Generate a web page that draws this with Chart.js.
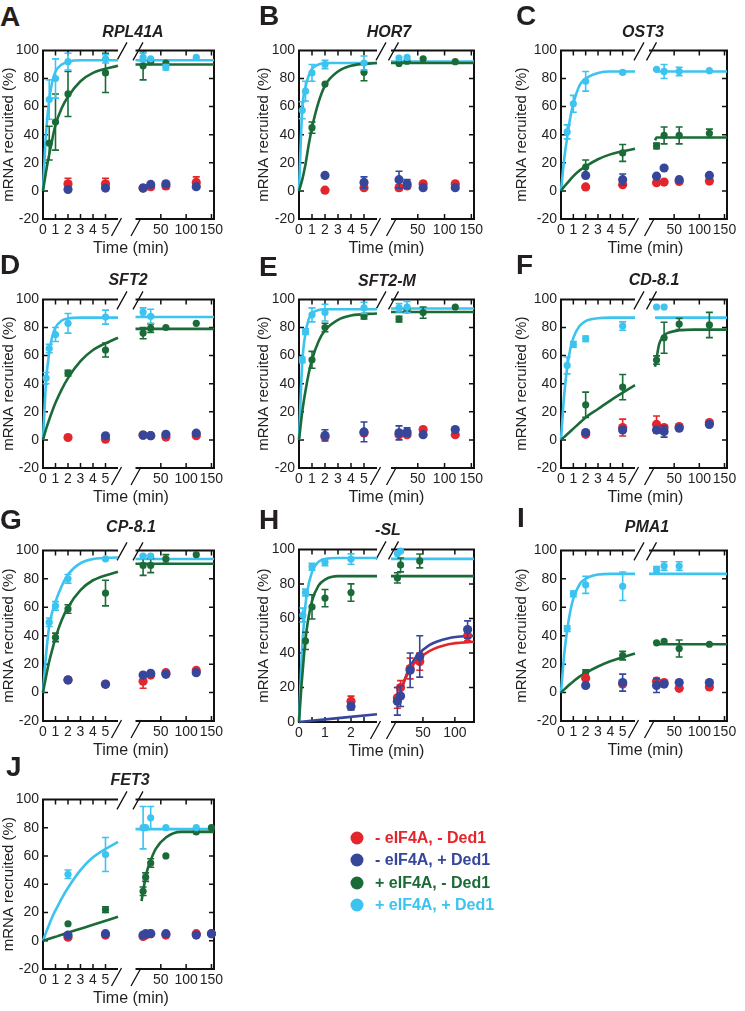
<!DOCTYPE html>
<html><head><meta charset="utf-8">
<script src="https://cdn.jsdelivr.net/npm/chart.js@4.4.0/dist/chart.umd.min.js"></script>
<style>
body{margin:0;background:#fff;width:745px;height:1011px;position:relative;overflow:hidden;font-family:"Liberation Sans",Arial,Helvetica,sans-serif;color:#231f20;}
canvas.pc{position:absolute;}
.lt{position:absolute;font-weight:bold;font-size:28px;line-height:1;}
.gt{position:absolute;font-weight:bold;font-style:italic;font-size:16px;line-height:1;transform:translate(-50%,-50%);white-space:nowrap;}
.xt{position:absolute;font-size:16px;line-height:1;transform:translate(-50%,-50%);white-space:nowrap;}
.lg{position:absolute;font-weight:bold;font-size:16px;line-height:1;transform:translateY(-50%);white-space:nowrap;}
.dot{position:absolute;width:13px;height:13px;border-radius:50%;transform:translate(-50%,-50%);}
</style>
</head><body>
<script>
const _ = null;
// ---- time points ----
const tL = [0.25, 0.5, 1, 2, 5];
const tR = [15, 30, 60, 120];
const tL_H = [0.15, 0.25, 0.5, 1, 2];
const tR_H = [10, 15, 30, 45, 120];
const tR_J = [15, 20, 30, 60, 120, 150];
// curve sample times
const cTL = [0, 0.25, 0.5, 0.75, 1, 1.5, 2, 3, 4, 6];
const cTR = [0, 12, 15, 20, 25, 30, 40, 60, 90, 155];
const cTL_H = [0, 0.1, 0.2, 0.3, 0.5, 0.75, 1, 1.5, 2, 3];
const cTR_H = [0, 10, 15, 20, 25, 30, 40, 60, 90, 130];
const cTR_J = [0, 12, 15, 20, 25, 30, 40, 60, 90, 155];
// series order: [-eIF4A -Ded1, -eIF4A +Ded1, +eIF4A -Ded1, +eIF4A +Ded1]
const seriesNames = ['- eIF4A, - Ded1', '- eIF4A, + Ded1', '+ eIF4A, - Ded1', '+ eIF4A, + Ded1'];
const seriesColors = ['#e3262c', '#35469b', '#1b6b39', '#3cc3f0'];

// ---- A RPL41A ----
const A_ptsL = [[_,_,_,5,5],[_,_,_,1,2],[_,34,49,69,84],[_,65,80,92,94]];
const A_errL = [[0,0,0,4,4],[0,0,0,0,0],[0,12,20,16,14],[0,14,14,6,3]];
const A_ptsR = [[2,3,3.5,6],[2,4.6,5,3],[89,92,91,_],[95,94,88,95]];
const A_errR = [[0,2,2,4],[0,0,0,0],[10,0,0,0],[3,0,2,0]];
const A_fitL = [_,_,[0,14,26,37,47,59,67,78,84,89],[0,42,65,78,85,90,92,93,93,93]];
const A_fitR = [_,_,[90,_,_,_,_,_,_,_,_,90],[93,_,_,_,_,_,_,_,_,93]];
// ---- B HOR7 ----
const B_ptsL = [[_,_,_,0.5,2.3],[_,_,_,11,6],[_,_,45,76,84.4],[57.4,71,84,90,91]];
const B_errL = [[0,0,0,0,0],[0,0,0,0,4],[0,0,4,0,6],[6,7,6,3,5]];
const B_ptsR = [[2.3,3.5,5,5],[8,5,2.3,2.3],[90.7,92.3,94,92],[94.6,95,_,_]];
const B_errR = [[2,0,0,0],[6,3,0,0],[0,0,0,0],[0,0,0,0]];
const B_fitL = [_,_,[0,8,19,33,45,63,75,85,89,91],[0,58,74,82,87,90,91,91,91,91]];
const B_fitR = [_,_,[91,_,_,_,_,_,_,_,_,91],[92,_,_,_,_,_,_,_,_,92]];
// ---- C OST3 ----
const C_ptsL = [[_,_,_,2.8,4.4],[_,_,_,11,8],[_,_,_,17,27],[_,42,62,78,84.4]];
const C_errL = [[0,0,0,0,0],[0,0,0,0,4],[0,0,0,5,6],[0,5,6,7,1]];
const C_ptsR = [[5.8,6.3,6.7,7],[10.5,16.3,8,11],[32,39.5,39.5,41],[86.5,85,85,85.6]];
const C_errR = [[0,0,0,0],[0,0,0,0],[2,6,6,3],[0,5,3,0]];
const C_fitL = [_,_,[0,3,5.5,8,10.5,14.5,17.5,22.5,26,30],[0,22,38,52,62,75,80,84,85,85]];
const C_fitR = [_,_,[_,36,38,_,_,_,_,_,_,38],[_,85,_,_,_,_,_,_,_,85]];
// ---- D SFT2 ----
const D_ptsL = [[_,_,_,1.7,0.5],[_,_,_,_,2.9],[_,_,_,47.5,64],[44,65,75,83,87.4]];
const D_errL = [[0,0,0,0,0],[0,0,0,0,0],[0,0,0,2,5],[4,3,5,7,5]];
const D_ptsR = [[3.4,3,2,3],[3.4,3,4,4.8],[76,79.5,80,83],[91,88,_,_]];
const D_errR = [[0,0,0,0],[0,0,0,0],[4,3,0,0],[3,5,0,0]];
const D_fitL = [_,_,[0,7.8,14.5,20.7,26.4,36,44,56,64,72.7],[0,42,62,74,80,85,86.5,87,87,87]];
const D_fitR = [_,_,[79,_,_,_,_,_,_,_,_,79],[87.5,_,_,_,_,_,_,_,_,87.5]];
// ---- E SFT2-M ----
const E_ptsL = [[_,_,_,2,5],[_,_,_,3.2,5.7],[_,_,57,80,88],[57,77,89,90.6,94]];
const E_errL = [[0,0,0,0,0],[0,0,0,4,7],[0,0,6,3,2],[2,2,5,6,4]];
const E_ptsR = [[3.7,3.7,7.4,3.7],[5,5.7,3.7,7.4],[86,92.5,90.6,94.6],[94,94.6,_,_]];
const E_errR = [[0,0,0,0],[5,3,0,0],[2,0,4,0],[3,4,0,0]];
const E_fitL = [_,_,[0,20,35,47.5,57,70,78,85.5,88.5,90],[0,55,76,86,90,92.5,93,93,93,93]];
const E_fitR = [_,_,[91,_,_,_,_,_,_,_,_,91],[93.5,_,_,_,_,_,_,_,_,93.5]];
// ---- F CD-8.1 ----
const F_ptsL = [[_,_,_,4,8.8],[_,_,_,5.2,7],[_,_,_,25,37.6],[_,53,68,72,81]];
const F_errL = [[0,0,0,0,6],[0,0,0,0,0],[0,0,0,9,9],[0,6,2,2,3]];
const F_ptsR = [[11,8.8,9.5,12.4],[7,6,8.3,11],[56.8,72.7,82.5,81.8],[94.6,94.6,_,_]];
const F_errR = [[6,0,0,0],[0,4,0,0],[3,11,4,9],[0,0,0,0]];
const F_fitL = [_,_,[0,2,4,6,8,12,16,22,28,39],[0,31,51.5,64.5,72.6,81,84.6,86.6,87,87]];
const F_fitR = [_,_,[_,52,58,68,72,74.5,76.5,78,78.5,78.5],[_,87,_,_,_,_,_,_,_,87]];
// ---- G CP-8.1 ----
const G_ptsL = [[_,_,_,9,6],[_,_,_,8.8,5.8],[_,_,38.8,58.8,70],[_,49.5,61,80,94]];
const G_errL = [[0,0,0,0,0],[0,0,0,0,0],[0,0,3,3,9],[0,3,3,3,0]];
const G_ptsR = [[8,12.3,14,15.6],[12.3,13.5,12.8,14],[89.4,89.4,94,97],[96,96,_,_]];
const G_errR = [[5,0,0,0],[0,0,0,0],[7,5,3,0],[0,0,0,0]];
const G_fitL = [_,_,[0,11.5,22,30.5,38.5,51,60,72,79,85],[0,27,47,57,64,75,83,91,94,95]];
const G_fitR = [_,_,[90.6,_,_,_,_,_,_,_,_,90.6],[94,_,_,_,_,_,_,_,_,94]];
// ---- H -SL ----
const H_ptsL = [[_,_,_,_,12],[_,_,_,_,9],[_,47,66.7,71.8,75],[62,75,90,92.5,94.4]];
const H_errL = [[0,0,0,0,3],[0,0,0,0,2],[0,5,7,5,5],[4,2,2,2,3]];
const H_ptsR = [[14,20,31,35,50],[12,15,30,38,53.6],[83.5,91,_,93.3,_],[97.5,99,_,_,_]];
const H_errR = [[6,4,6,5,3],[8,6,10,12,5],[3,4,0,4,0],[0,0,0,0,0]];
const H_fitL = [_,[0,_,_,_,_,_,_,_,_,4.5],[0,22,40,54,70,79,82.5,84.5,84.5,84.5],[0,37,60,74,87,92.8,94.4,95,95,95]];
const H_fitR = [[_,12,18,23,27,30.5,35.5,41,45,46.5],[_,10,17,23,28,32,38,44.5,48.5,50],[84.5,_,_,_,_,_,_,_,_,84.5],[94.5,_,_,_,_,_,_,_,_,94.5]];
// ---- I PMA1 ----
const I_ptsL = [[_,_,_,10,6],[_,_,_,5,7],[_,_,_,14,26],[_,45,69.4,75.8,74.8]];
const I_errL = [[0,0,0,0,0],[0,0,0,0,6],[0,0,0,2,3],[0,2,2,6,10]];
const I_ptsR = [[8,7,3,4],[5,6,7,7],[35,36,31,34],[86.6,89,89,_]];
const I_errR = [[0,0,0,0],[5,0,0,0],[0,0,6,0],[2,3,3,0]];
const I_fitL = [_,_,[0,2.1,4.1,6,7.8,11.2,13.8,18.3,22,27.5],[0,26,44,57,66,76,80,83,83.5,83.5]];
const I_fitR = [_,_,[_,34,_,_,_,_,_,_,_,34],[83.5,_,_,_,_,_,_,_,_,83.5]];
// ---- J FET3 ----
const J_ptsL = [[_,_,_,2.5,4],[_,_,_,4,5],[_,_,_,12,22],[_,_,_,47,61]];
const J_errL = [[0,0,0,0,0],[0,0,0,0,0],[0,0,0,0,2],[0,0,0,3,12]];
const J_ptsR = [[3,4,5,4,5,5],[4,5,5,5,4,5],[35,45,55,60,77,80],[80,80,87,80,80,_]];
const J_errR = [[0,0,0,0,0,0],[0,0,0,0,0,0],[3,3,3,0,0,0],[15,0,8,0,0,0]];
const J_fitL = [_,_,[0,0.7,1.4,2.1,2.8,4.2,5.7,8.5,11.3,17],[0,6,11.5,17,21.5,30,37.5,50,59,70]];
const J_fitR = [_,_,[_,28,35,45,52,57,65,73,77,77],[79,_,_,_,_,_,_,_,_,79]];

// ---- layout (positions only) ----
const cols = [
  {left:43, lse:118, rss:135.5, right:214, yW:43, tx:131},
  {left:299, lse:377, rss:391, right:474, yW:44, tx:386.5},
  {left:561, lse:635, rss:649, right:727, yW:48, tx:645.5}
];
const rows = [{top:48,bottom:219},{top:297,bottom:468},{top:548,bottom:721},{top:797,bottom:969}];

const panels = [
  {id:'A',gene:'RPL41A',c:0,r:0,L:[0,27],G:[133,32],pL:A_ptsL,eL:A_errL,pR:A_ptsR,eR:A_errR,fL:A_fitL,fR:A_fitR},
  {id:'B',gene:'HOR7',c:1,r:0,L:[259,26],G:[389,32],pL:B_ptsL,eL:B_errL,pR:B_ptsR,eR:B_errR,fL:B_fitL,fR:B_fitR},
  {id:'C',gene:'OST3',c:2,r:0,L:[516,26],G:[643,32],pL:C_ptsL,eL:C_errL,pR:C_ptsR,eR:C_errR,fL:C_fitL,fR:C_fitR},
  {id:'D',gene:'SFT2',c:0,r:1,L:[0,275],G:[128,280],pL:D_ptsL,eL:D_errL,pR:D_ptsR,eR:D_errR,fL:D_fitL,fR:D_fitR},
  {id:'E',gene:'SFT2-M',c:1,r:1,L:[259,277],G:[387,281],pL:E_ptsL,eL:E_errL,pR:E_ptsR,eR:E_errR,fL:E_fitL,fR:E_fitR},
  {id:'F',gene:'CD-8.1',c:2,r:1,L:[516,275],G:[654,280],pL:F_ptsL,eL:F_errL,pR:F_ptsR,eR:F_errR,fL:F_fitL,fR:F_fitR},
  {id:'G',gene:'CP-8.1',c:0,r:2,L:[0,530],G:[131,527],pL:G_ptsL,eL:G_errL,pR:G_ptsR,eR:G_errR,fL:G_fitL,fR:G_fitR},
  {id:'H',gene:'-SL',c:1,r:2,L:[259,530],G:[388,530],pL:H_ptsL,eL:H_errL,pR:H_ptsR,eR:H_errR,fL:H_fitL,fR:H_fitR,
     tL:tL_H,tR:tR_H,cTL:cTL_H,cTR:cTR_H,xLmax:3,xRmax:130,yMin:0,top:547,bottom:722,ticksL:[0.5,1,1.5,2,2.5],ticksR:[50,100]},
  {id:'I',gene:'PMA1',c:2,r:2,L:[517,528],G:[647,527],pL:I_ptsL,eL:I_errL,pR:I_ptsR,eR:I_errR,fL:I_fitL,fR:I_fitR},
  {id:'J',gene:'FET3',c:0,r:3,L:[6,777],G:[130,780],pL:J_ptsL,eL:J_errL,pR:J_ptsR,eR:J_errR,fL:J_fitL,fR:J_fitR,
     tR:tR_J,cTR:cTR_J}
];

Chart.defaults.font.family = '"Liberation Sans", Arial, Helvetica, sans-serif';
Chart.defaults.font.size = 14;
Chart.defaults.color = '#231f20';

const framePlugin = {
  id:'frame',
  beforeDatasetsDraw(chart, args, opts) {
    const ctx = chart.ctx, xL = chart.scales.xL, xR = chart.scales.xR, y = chart.scales.y;
    const top = chart.chartArea.top, bot = chart.chartArea.bottom;
    const l0 = xL.left, l1 = xL.right, r0 = xR.left, r1 = xR.right;
    ctx.save();
    ctx.strokeStyle = '#111';
    ctx.lineWidth = 2;
    ctx.beginPath();
    ctx.moveTo(l1, top); ctx.lineTo(l0, top); ctx.lineTo(l0, bot); ctx.lineTo(l1, bot);
    ctx.moveTo(r0, top); ctx.lineTo(r1, top); ctx.lineTo(r1, bot); ctx.lineTo(r0, bot);
    ctx.stroke();
    ctx.lineWidth = 1.5;
    const tk = 5;
    ctx.beginPath();
    opts.ticksL.forEach(v => { const x = xL.getPixelForValue(v); ctx.moveTo(x, top); ctx.lineTo(x, top + tk); ctx.moveTo(x, bot); ctx.lineTo(x, bot - tk); });
    opts.ticksR.forEach(v => { const x = xR.getPixelForValue(v); ctx.moveTo(x, top); ctx.lineTo(x, top + tk); ctx.moveTo(x, bot); ctx.lineTo(x, bot - tk); });
    y.ticks.forEach(t => {
      if (t.value <= y.min || t.value >= y.max) return;
      const yy = y.getPixelForValue(t.value);
      ctx.moveTo(l0, yy); ctx.lineTo(l0 + tk, yy);
      ctx.moveTo(r1, yy); ctx.lineTo(r1 - tk, yy);
    });
    ctx.stroke();
    ctx.lineWidth = 1.3;
    ctx.beginPath();
    [[l1 + 4, top + 1], [r0 + 2.5, top + 1], [l1 - 1.5, bot + 8], [r0 + 0.5, bot + 8]].forEach(([cx, cy]) => {
      ctx.moveTo(cx - 5, cy + 9); ctx.lineTo(cx + 5, cy - 9);
    });
    ctx.stroke();
    ctx.restore();
  }
};

const errPlugin = {
  id:'errbars',
  beforeDatasetDraw(chart, args) {
    const ds = chart.data.datasets[args.index];
    if (!ds.hasErr) return;
    const ctx = chart.ctx, xs = chart.scales[ds.xAxisID], ys = chart.scales.y;
    ctx.save();
    ctx.strokeStyle = ds.borderColor;
    ctx.lineWidth = 1.6;
    ctx.beginPath();
    ds.data.forEach(d => {
      if (!d.e) return;
      const x = xs.getPixelForValue(d.x);
      const y1 = ys.getPixelForValue(d.y + d.e), y2 = ys.getPixelForValue(d.y - d.e);
      ctx.moveTo(x, y1); ctx.lineTo(x, y2);
      ctx.moveTo(x - 3.5, y1); ctx.lineTo(x + 3.5, y1);
      ctx.moveTo(x - 3.5, y2); ctx.lineTo(x + 3.5, y2);
    });
    ctx.stroke();
    ctx.restore();
  }
};

function addText(cls, txt, x, y, extra) {
  const d = document.createElement('div');
  d.className = cls; d.textContent = txt;
  d.style.left = x + 'px'; d.style.top = y + 'px';
  if (extra) Object.assign(d.style, extra);
  document.body.appendChild(d);
  return d;
}

const drawOrder = [2, 1, 4, 3]; // blue drawn on top, then red, green, cyan

panels.forEach(p => {
  const col = cols[p.c], row = rows[p.r];
  const top = p.top ?? row.top, bottom = p.bottom ?? row.bottom;
  const padT = 10, padR = 14, xH = 30;
  const cLeft = col.left - col.yW, cTop = top - padT;
  const W = col.right + padR - cLeft, H = bottom - top + padT + xH;
  const tl = p.tL || tL, tr = p.tR || tR, ctl = p.cTL || cTL, ctr = p.cTR || cTR;
  const xLmax = p.xLmax || 6, xRmax = p.xRmax || 155, yMin = p.yMin ?? -20;

  const datasets = [];
  for (let s = 0; s < 4; s++) {
    [['xL', p.fL, ctl], ['xR', p.fR, ctr]].forEach(([ax, fit, ct]) => {
      if (!fit || !fit[s]) return;
      datasets.push({
        type:'line', xAxisID:ax, yAxisID:'y', label:seriesNames[s] + ' fit',
        data: ct.map((t, i) => ({x:t, y:fit[s][i]})),
        borderColor: seriesColors[s], borderWidth: 2.6, pointRadius: 0,
        cubicInterpolationMode:'monotone', spanGaps:true, fill:false, clip:false, order: 10
      });
    });
    [['xL', p.pL, p.eL, tl], ['xR', p.pR, p.eR, tr]].forEach(([ax, pts, err, tt]) => {
      const data = tt.map((t, i) => ({x:t, y:pts[s][i], e:err[s][i]})).filter(d => d.y !== null && d.y !== undefined);
      if (!data.length) return;
      datasets.push({
        type:'line', xAxisID:ax, yAxisID:'y', label:seriesNames[s], hasErr:true,
        data, showLine:false, borderColor: seriesColors[s], backgroundColor: seriesColors[s],
        pointRadius: s < 2 ? 4.6 : 3.6, pointBorderWidth: 0, pointStyle:'circle', clip:false, order: drawOrder[s]
      });
    });
  }

  const cv = document.createElement('canvas');
  cv.className = 'pc'; cv.width = W; cv.height = H;
  cv.style.left = cLeft + 'px'; cv.style.top = cTop + 'px';
  cv.style.width = W + 'px'; cv.style.height = H + 'px';
  document.body.appendChild(cv);

  const noGrid = {display:false, drawTicks:false};
  const xFit = s => { s.height = xH; };
  const wL = col.lse - col.left, wG = col.rss - col.lse, wR = col.right - col.rss;
  const lblL = p.xLmax ? [0, 1, 2] : [0, 1, 2, 3, 4, 5];
  const lblR = [50, 100, 150].filter(v => v < xRmax);

  new Chart(cv, {
    type:'line',
    data:{datasets},
    options:{
      responsive:false, animation:false, devicePixelRatio:1,
      layout:{padding:{top:padT, right:padR, left:0, bottom:0}},
      plugins:{legend:{display:false}, tooltip:{enabled:false}, frame:{ticksL: p.ticksL || [1,2,3,4,5], ticksR: p.ticksR || [50,100,150]}},
      scales:{
        y:{type:'linear', position:'left', min:yMin, max:100,
           ticks:{stepSize:20, padding:4, font:{size:14}},
           grid:noGrid, border:{display:false},
           title:{display:true, text:'mRNA recruited (%)', font:{size:15}, padding:{top:0, bottom:0}},
           afterFit: s => { s.width = col.yW; }},
        xL:{type:'linear', position:'bottom', stack:'x', stackWeight:wL, weight:0, min:0, max:xLmax,
            ticks:{stepSize:1, includeBounds:false, autoSkip:false, maxRotation:0, minRotation:0, padding:3, font:{size:14},
                   callback: v => lblL.includes(v) ? String(v) : ''},
            grid:noGrid, border:{display:false}, afterFit:xFit},
        xG:{type:'linear', position:'bottom', stack:'x', stackWeight:wG, weight:1, min:0, max:1,
            ticks:{display:false}, grid:noGrid, border:{display:false}, afterFit:xFit},
        xR:{type:'linear', position:'bottom', stack:'x', stackWeight:wR, weight:2, min:0, max:xRmax,
            ticks:{stepSize:50, includeBounds:false, autoSkip:false, maxRotation:0, minRotation:0, padding:3, font:{size:14},
                   callback: v => lblR.includes(v) ? String(v) : ''},
            grid:noGrid, border:{display:false}, afterFit:xFit}
      }
    },
    plugins:[framePlugin, errPlugin]
  });

  addText('lt', p.id, p.L[0], p.L[1] - 23.7);
  addText('gt', p.gene, p.G[0], p.G[1]);
  addText('xt', 'Time (min)', col.tx, bottom + 29);
});

// legend
const legY = [838, 860, 883, 905];
seriesNames.forEach((n, i) => {
  const d = document.createElement('div');
  d.className = 'dot'; d.style.left = '357px'; d.style.top = legY[i] + 'px'; d.style.background = seriesColors[i];
  document.body.appendChild(d);
  addText('lg', n, 375, legY[i], {color: seriesColors[i]});
});
</script>
</body></html>
